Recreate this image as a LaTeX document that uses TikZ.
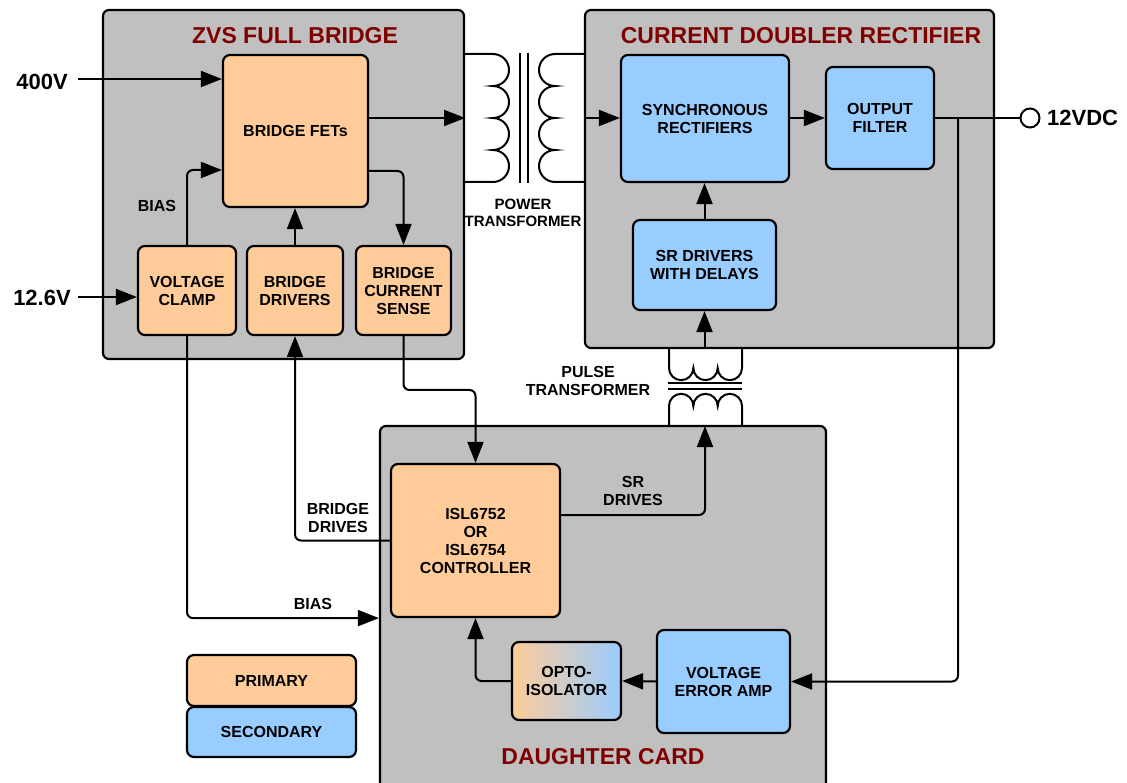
\documentclass[tikz,border=0pt]{standalone}
\usepackage{fontspec}
\setmainfont{Liberation Sans}
\usetikzlibrary{arrows.meta,calc}
\definecolor{pri}{HTML}{FFCC99}
\definecolor{sec}{HTML}{99CCFF}
\definecolor{grp}{HTML}{C0C0C0}
\definecolor{ttl}{RGB}{128,0,0}
\begin{document}
\begin{tikzpicture}[x=1pt,y=-1pt,
  grpbox/.style={draw, fill=grp, line width=2.2pt, rounded corners=6pt, inner sep=0pt},
  box/.style={draw, line width=2.2pt, rounded corners=7pt, inner sep=0pt, align=center,
    font=\bfseries\fontsize{16}{18}\selectfont},
  pbox/.style={box, fill=pri},
  sbox/.style={box, fill=sec},
  ttlstyle/.style={text=ttl, font=\bfseries\fontsize{23}{26}\selectfont, inner sep=0pt},
  lbl/.style={align=center, inner sep=0pt, font=\bfseries\fontsize{16}{18}\selectfont},
  biglbl/.style={inner sep=0pt, font=\bfseries\fontsize{22}{24}\selectfont},
  arr/.style={line width=2pt, rounded corners=6pt, -{Triangle[length=21pt,width=16pt]}},
  wire/.style={line width=2pt, rounded corners=6pt},
  coil/.style={line width=2pt}]
\clip (0,0) rectangle (1127,783);
\fill[white] (0,0) rectangle (1127,783);

% group boxes
\node[grpbox, minimum width=361, minimum height=349] (zvs) at (283.5,184.5) {};
\node[grpbox, minimum width=409, minimum height=338] (cdr) at (789.5,179) {};
\node[grpbox, minimum width=446, minimum height=380] (dc) at (603,616) {};
\node[ttlstyle] (tzvs) at (295,36) {ZVS FULL BRIDGE};
\node[ttlstyle] (tcdr) at (801,36) {CURRENT DOUBLER RECTIFIER};
\node[ttlstyle] (tdc) at (603,757) {DAUGHTER CARD};

% primary blocks
\node[pbox, minimum width=145, minimum height=152] (fets) at (295.5,131) {BRIDGE FETs};
\node[pbox, minimum width=98, minimum height=89] (clamp) at (187,290.5) {VOLTAGE\\CLAMP};
\node[pbox, minimum width=96, minimum height=89] (drivers) at (295,290.5) {BRIDGE\\DRIVERS};
\node[pbox, minimum width=95, minimum height=89] (sense) at (403.5,290.5) {BRIDGE\\CURRENT\\SENSE};
\node[pbox, minimum width=169, minimum height=153] (ctrl) at (475.5,540.5) {ISL6752\\OR\\ISL6754\\CONTROLLER};

% secondary blocks
\node[sbox, minimum width=168, minimum height=127] (sync) at (705,118.5) {SYNCHRONOUS\\RECTIFIERS};
\node[sbox, minimum width=108, minimum height=102] (filter) at (880,118) {OUTPUT\\FILTER};
\node[sbox, minimum width=143, minimum height=90] (srdrv) at (704.5,265) {SR DRIVERS\\WITH DELAYS};
\node[sbox, minimum width=133, minimum height=103] (vea) at (723.5,681.5) {VOLTAGE\\ERROR AMP};
\node[box, left color=pri, right color=sec, minimum width=109, minimum height=78] (opto) at (566.5,681) {OPTO-\\ISOLATOR};

% legend
\node[pbox, minimum width=169, minimum height=51] (lpri) at (271.5,680.5) {PRIMARY};
\node[sbox, minimum width=169, minimum height=50] (lsec) at (271.5,732) {SECONDARY};

% inputs / output
\node[biglbl] (v400) at (42,82) {400V};
\node[biglbl] (v126) at (42,298) {12.6V};
\coordinate (in400) at (78,79);
\coordinate (in126) at (78,297);
\node[circle, draw, line width=2pt, fill=white, minimum size=19, inner sep=0pt] (out) at (1030,118) {};
\node[biglbl, anchor=west] (v12) at (1047,118) {12VDC};
\coordinate (jn) at (958,118);
\coordinate (ptb) at (705,426);

% labels
\node[lbl] (lbias1) at (157,206) {BIAS};
\node[lbl, font=\bfseries\fontsize{15}{17}\selectfont] (lpt) at (523,213) {POWER\\TRANSFORMER};
\node[lbl] (lpulse) at (588,381) {PULSE\\TRANSFORMER};
\node[lbl] (lsrd) at (633,491) {SR\\DRIVES};
\node[lbl] (lbd) at (338,518) {BRIDGE\\DRIVES};
\node[lbl] (lbias2) at (313,604) {BIAS};

% connectors
\draw[arr] (in400) -- (fets.west |- in400);
\draw[arr] (in126) -- (clamp.west |- in126);
\draw[arr] (clamp.north) |- (fets.west |- 0,170);
\draw[arr] (drivers.north) -- (drivers.north |- fets.south);
\draw[arr] (fets.east |- 0,171) -| (sense.north);
\draw[arr] (fets.east |- 0,118) -- (zvs.east |- 0,118);
\draw[arr] (cdr.west |- 0,118) -- (sync.west |- 0,118);
\draw[arr] (sync.east |- 0,118) -- (filter.west);
\draw[wire] (filter.east) -- (out.west);
\draw[arr] (jn) |- (vea.east);
\draw[arr] (srdrv.north) -- (srdrv.north |- sync.south);
\draw[arr] (srdrv.south |- cdr.south) -- (srdrv.south);
\draw[arr] (ctrl.east |- 0,515) -| (ptb);
\draw[arr] (ctrl.west) -| (drivers.south);
\draw[arr] (sense.south) |- (ctrl.north |- 0,390) -- (ctrl.north);
\draw[arr] (clamp.south) |- (dc.west |- ctrl.south);
\draw[arr] (vea.west) -- (opto.east);
\draw[arr] (opto.west) -| (ctrl.south);

% power transformer
\draw[coil] (zvs.east |- 0,54) -- (493,54)
  arc[start angle=90, end angle=-90, radius=16pt]
  arc[start angle=90, end angle=-90, radius=16pt]
  arc[start angle=90, end angle=-90, radius=16pt]
  arc[start angle=90, end angle=-90, radius=16pt]
  -- (zvs.east |- 0,182);
\draw[coil] (cdr.west |- 0,54) -- (555,54)
  arc[start angle=90, end angle=270, radius=16pt]
  arc[start angle=90, end angle=270, radius=16pt]
  arc[start angle=90, end angle=270, radius=16pt]
  arc[start angle=90, end angle=270, radius=16pt]
  -- (cdr.west |- 0,182);
\draw[coil] (520,53) -- (520,183);
\draw[coil] (528,53) -- (528,183);

% pulse transformer
\draw[coil] (669,348) -- (669,368)
  arc[start angle=180, end angle=360, radius=12.17pt]
  arc[start angle=180, end angle=360, radius=12.17pt]
  arc[start angle=180, end angle=360, radius=12.17pt]
  -- (742,348);
\draw[coil] (669,426) -- (669,406)
  arc[start angle=180, end angle=0, radius=12.17pt]
  arc[start angle=180, end angle=0, radius=12.17pt]
  arc[start angle=180, end angle=0, radius=12.17pt]
  -- (742,426);
\draw[coil] (668,383.5) -- (742,383.5);
\draw[coil] (668,389.5) -- (742,389.5);
\end{tikzpicture}
\end{document}
